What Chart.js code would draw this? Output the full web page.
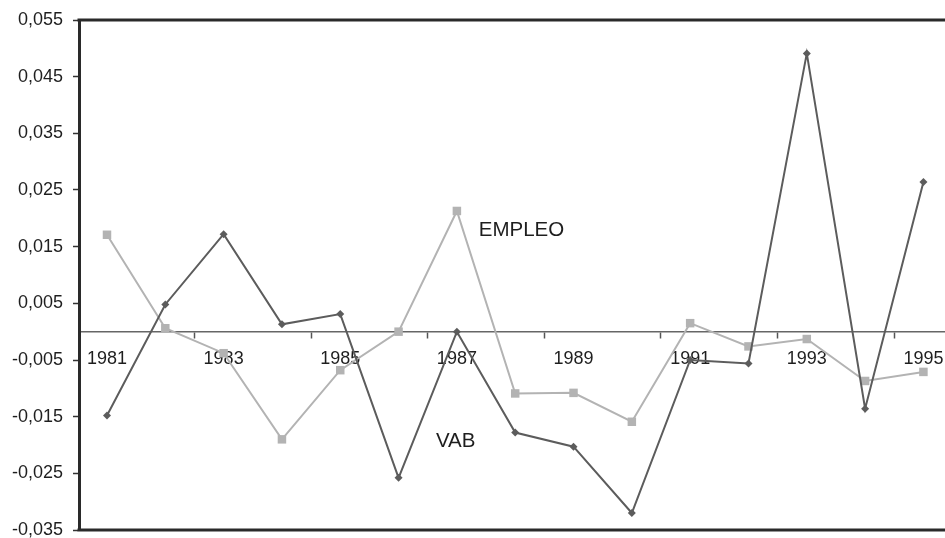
<!DOCTYPE html>
<html>
<head>
<meta charset="utf-8">
<script src="https://cdn.jsdelivr.net/npm/chart.js@4.4.1/dist/chart.umd.min.js"></script>
<style>
  html, body { margin: 0; padding: 0; background: #ffffff; }
  #wrap { width: 945px; height: 538px; }
</style>
</head>
<body>
<div id="wrap"><canvas id="c" width="945" height="538"></canvas></div>
<script>
// Annual variation rates, 1981-1995
const years = [1981, 1982, 1983, 1984, 1985, 1986, 1987, 1988, 1989, 1990, 1991, 1992, 1993, 1994, 1995];
const vab = [-0.0148, 0.0048, 0.0172, 0.0013, 0.0031, -0.0258, 0.0000, -0.0178, -0.0203, -0.0320, -0.0050, -0.0056, 0.0491, -0.0136, 0.0264];
const empleo = [0.0171, 0.0006, -0.0038, -0.0190, -0.0068, 0.0000, 0.0213, -0.0109, -0.0108, -0.0159, 0.0015, -0.0026, -0.0013, -0.0087, -0.0071];
const yTickValues = [-0.035, -0.025, -0.015, -0.005, 0.005, 0.015, 0.025, 0.035, 0.045, 0.055];
const labeledYears = [1981, 1983, 1985, 1987, 1989, 1991, 1993, 1995];
const seriesNames = ['VAB', 'EMPLEO'];

const FONT = 'Liberation Sans, Arial, sans-serif';
const DARK = '#5c5c5c';
const LIGHT = '#b3b3b3';

const toPoints = (vals) => years.map((yr, i) => ({ x: yr, y: vals[i] }));

// Labels may overhang the plot edges without shrinking the plot
const noOverhang = (scale) => {
  scale.paddingLeft = 0;
  scale.paddingRight = 0;
  scale.paddingTop = 0;
  scale.paddingBottom = 0;
};

// Plot frame (top and bottom) in heavy dark strokes
const framePlugin = {
  id: 'frame',
  afterDraw(chart) {
    const { ctx, chartArea: a } = chart;
    ctx.save();
    ctx.strokeStyle = '#2a2a2a';
    ctx.lineWidth = 3;
    ctx.beginPath();
    ctx.moveTo(a.left - 1.5, a.top);
    ctx.lineTo(chart.width, a.top);
    ctx.moveTo(a.left - 1.5, a.bottom);
    ctx.lineTo(chart.width, a.bottom);
    ctx.stroke();
    ctx.restore();
  }
};

// Series names written next to their lines
const seriesLabelPlugin = {
  id: 'seriesLabels',
  afterDatasetsDraw(chart) {
    const { ctx, scales: { x, y } } = chart;
    ctx.save();
    ctx.font = '20.5px ' + FONT;
    ctx.fillStyle = '#1e1e1e';
    ctx.textBaseline = 'middle';
    ctx.textAlign = 'left';
    ctx.fillText(seriesNames[1], x.getPixelForValue(1987.375), y.getPixelForValue(0.0179));
    ctx.fillText(seriesNames[0], x.getPixelForValue(1986.64), y.getPixelForValue(-0.0194));
    ctx.restore();
  }
};

new Chart(document.getElementById('c'), {
  type: 'line',
  data: {
    datasets: [
      {
        label: seriesNames[0],
        data: toPoints(vab),
        borderColor: DARK,
        backgroundColor: DARK,
        borderWidth: 2,
        pointStyle: 'rectRot',
        pointRadius: 4,
        pointBorderWidth: 0,
        tension: 0
      },
      {
        label: seriesNames[1],
        data: toPoints(empleo),
        borderColor: LIGHT,
        backgroundColor: LIGHT,
        borderWidth: 2,
        pointStyle: 'rect',
        pointRadius: 6,
        pointBorderWidth: 0,
        tension: 0
      }
    ]
  },
  options: {
    responsive: false,
    animation: false,
    events: [],
    layout: { autoPadding: false, padding: { top: 20, bottom: 8, right: 0, left: 0 } },
    plugins: { legend: { display: false }, tooltip: { enabled: false } },
    scales: {
      x: {
        type: 'linear',
        position: { y: 0 },
        min: 1980.52,
        max: 1995.37,
        afterBuildTicks(scale) {
          const t = [];
          labeledYears.forEach((yr) => {
            t.push({ value: yr });
            if (yr + 1.5 < scale.max) t.push({ value: yr + 1.5 });
          });
          scale.ticks = t;
        },
        afterFit: noOverhang,
        ticks: {
          autoSkip: false,
          maxRotation: 0,
          padding: 11,
          color: '#1e1e1e',
          font: { family: FONT, size: 18 },
          callback: (v) => (Number.isInteger(v) ? String(v) : '')
        },
        grid: {
          drawOnChartArea: false,
          drawTicks: true,
          tickLength: 6,
          tickWidth: 1.5,
          tickColor: (ctx) => (ctx.tick && Number.isInteger(ctx.tick.value) ? 'rgba(0,0,0,0)' : '#555555')
        },
        border: { display: true, color: '#666666', width: 1.5 }
      },
      y: {
        min: -0.035,
        max: 0.055,
        afterBuildTicks(scale) {
          scale.ticks = yTickValues.map((v) => ({ value: v }));
        },
        afterFit(scale) {
          scale.width = 79;
          noOverhang(scale);
        },
        ticks: {
          padding: 10,
          color: '#1e1e1e',
          font: { family: FONT, size: 18 },
          callback: (v) => v.toFixed(3).replace('.', ',')
        },
        grid: {
          drawOnChartArea: false,
          drawTicks: true,
          tickLength: 6,
          tickWidth: 1.5,
          tickColor: '#333333'
        },
        border: { display: true, color: '#2a2a2a', width: 3 }
      }
    }
  },
  plugins: [framePlugin, seriesLabelPlugin]
});
</script>
</body>
</html>
